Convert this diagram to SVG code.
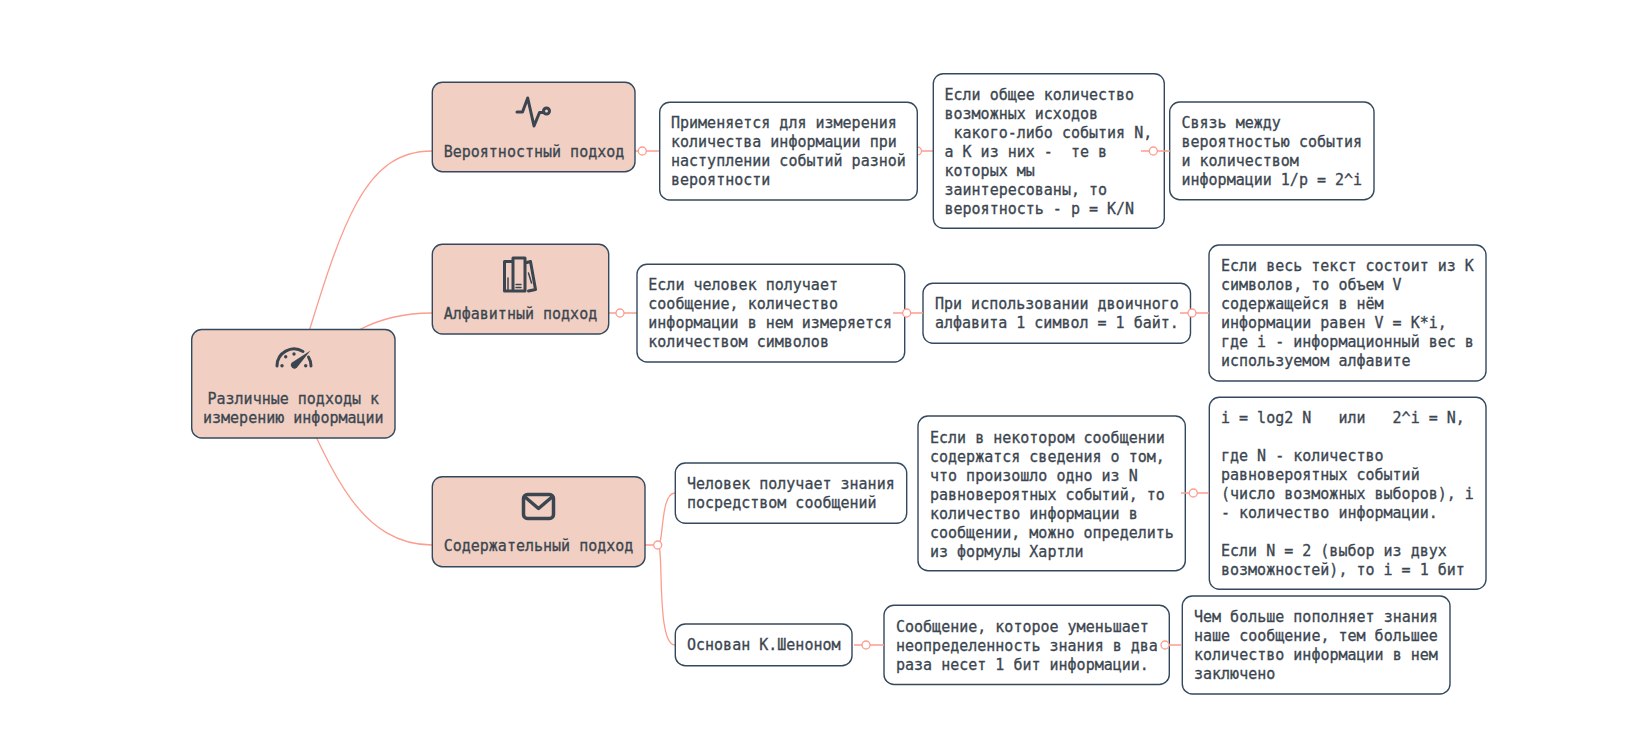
<svg xmlns="http://www.w3.org/2000/svg" width="1636" height="747" viewBox="0 0 1636 747">
<style>
.n{stroke:#34495e;stroke-width:1.4}
.m{fill:#f1d0c3}
.s{fill:#fff}
text{font-family:"DejaVu Sans Mono",monospace;font-size:15px;fill:#3c4650;stroke:#3c4650;stroke-width:.3;white-space:pre}
.c{fill:none;stroke:#fc9d8f;stroke-width:1.3}
.d{fill:#fff;stroke:#fc9d8f;stroke-width:1.3}
.i{fill:none;stroke:#3c4650;stroke-width:3;stroke-linecap:round;stroke-linejoin:round}
.f{fill:#3c4650}
</style>
<rect width="1636" height="747" fill="#fff"/>
<g id="connectors">
<path class="c" d="M293 384C340 230 360 151 432 151"/>
<path class="c" d="M293 384C340 335 375 313 432 313"/>
<path class="c" d="M293 384C330 470 360 545 432 545"/>
<path class="c" d="M635 151H660M917 151H933M608 313H637"/>
<path class="c" d="M645 545H658C664 545 660 493 675 493M658 545C664 545 656 645 675 645"/>
<circle class="d" cx="642.3" cy="151" r="4"/><circle class="d" cx="917.5" cy="151" r="4"/>
<circle class="d" cx="620" cy="313" r="4"/><circle class="d" cx="657.7" cy="545" r="4"/>
</g>
<g id="root"><rect class="n m" x="191.7" y="329.5" width="203.3" height="108.5" rx="10"/>
<path class="i" d="M277 366A17 17 0 0 1 303 351.5M308.500 357A17 17 0 0 1 311 366"/>
<path class="f" d="M310.500 350.500L297 367.500A3.500 3.500 0 0 1 292 362.500Z"/>
<circle class="f" cx="282" cy="365.700" r="1.700"/><circle class="f" cx="285.700" cy="356.700" r="1.700"/><circle class="f" cx="294" cy="354" r="1.700"/><circle class="f" cx="305.700" cy="365.700" r="1.700"/>
<text x="207.500" y="404">Различные подходы к</text><text x="203" y="423">измерению информации</text></g>
<g id="n1"><rect class="n m" x="432.3" y="82.3" width="202.7" height="89.4" rx="10"/>
<path class="i" d="M517 112H522.500L527.700 98L534 126L539.500 112.500H543"/><circle class="i" cx="546.500" cy="111" r="3"/>
<text x="443.700" y="156.700">Вероятностный подход</text></g>
<g id="n2"><rect class="n m" x="432.3" y="244.3" width="176.4" height="89.7" rx="10"/>
<path class="i" stroke-width="2.6" d="M504.500 261.500H513V291H504.500ZM513 258H525V291H513ZM525 263L530.500 261.500L535.500 289.500L528.500 291"/>
<path class="i" style="stroke-width:1.500" d="M508 278V289.500M516 284.500H521M516 287.500H521M528.500 273L531.500 283"/>
<text x="443.700" y="319">Алфавитный подход</text></g>
<g id="n3"><rect class="n m" x="432.3" y="476.7" width="212.7" height="90" rx="10"/>
<rect class="i" style="stroke-width:3.500" x="523.500" y="494.500" width="30" height="24" rx="4"/><path class="i" style="stroke-width:3.500" d="M525 497L538.500 508.500L552 497"/>
<text x="443.700" y="550.700">Содержательный подход</text></g>
<g id="n4"><rect class="n s" x="659.7" y="102.3" width="257.6" height="97.7" rx="10"/>
<text x="671" y="128.300">Применяется для измерения</text><text x="671" y="147.300">количества информации при</text><text x="671" y="166.300">наступлении событий разной</text><text x="671" y="185.300">вероятности</text></g>
<g id="n5"><rect class="n s" x="933.3" y="73.7" width="231" height="154.6" rx="10"/>
<text x="944.500" y="100">Если общее количество</text><text x="944.500" y="119">возможных исходов</text><text x="944.500" y="138"> какого-либо события N,</text><text x="944.500" y="157">а К из них -  те в</text><text x="944.500" y="176">которых мы</text><text x="944.500" y="195">заинтересованы, то</text><text x="944.500" y="214">вероятность - p = K/N</text></g>
<g id="n6"><rect class="n s" x="1169.7" y="102" width="204.3" height="97.7" rx="10"/>
<text x="1181.500" y="128">Связь между</text><text x="1181.500" y="147">вероятностью события</text><text x="1181.500" y="166">и количеством</text><text x="1181.500" y="185">информации 1/p = 2^i</text></g>
<g id="n7"><rect class="n s" x="637" y="264.3" width="267.7" height="97.7" rx="10"/>
<text x="648.300" y="290">Если человек получает</text><text x="648.300" y="309">сообщение, количество</text><text x="648.300" y="328">информации в нем измеряется</text><text x="648.300" y="347">количеством символов</text></g>
<g id="n8"><rect class="n s" x="923" y="283.3" width="267.500" height="60" rx="10"/>
<text x="935" y="309">При использовании двоичного</text><text x="935" y="328">алфавита 1 символ = 1 байт.</text></g>
<g id="n9"><rect class="n s" x="1209" y="245" width="277" height="136" rx="10"/>
<text x="1221" y="271">Если весь текст состоит из К</text><text x="1221" y="290">символов, то объем V</text><text x="1221" y="309">содержащейся в нём</text><text x="1221" y="328">информации равен V = K*i,</text><text x="1221" y="347">где i - информационный вес в</text><text x="1221" y="366">используемом алфавите</text></g>
<g id="n10"><rect class="n s" x="675.3" y="463" width="231.4" height="60.3" rx="10"/>
<text x="687" y="489">Человек получает знания</text><text x="687" y="508">посредством сообщений</text></g>
<g id="n11"><rect class="n s" x="918" y="416" width="267.3" height="154.7" rx="10"/>
<text x="930" y="442.700">Если в некотором сообщении</text><text x="930" y="461.700">содержатся сведения о том,</text><text x="930" y="480.700">что произошло одно из N</text><text x="930" y="499.700">равновероятных событий, то</text><text x="930" y="518.700">количество информации в</text><text x="930" y="537.700">сообщении, можно определить</text><text x="930" y="556.700">из формулы Хартли</text></g>
<g id="n12"><rect class="n s" x="1209.3" y="397.3" width="276.7" height="192" rx="10"/>
<text x="1221" y="423.300">i = log2 N   или   2^i = N,</text><text x="1221" y="461.300">где N - количество</text><text x="1221" y="480.300">равновероятных событий</text><text x="1221" y="499.300">(число возможных выборов), i</text><text x="1221" y="518.300">- количество информации.</text><text x="1221" y="556.300">Если N = 2 (выбор из двух</text><text x="1221" y="575.300">возможностей), то i = 1 бит</text></g>
<g id="n13"><rect class="n s" x="675.3" y="624" width="176.7" height="41.7" rx="10"/>
<text x="687" y="650">Основан К.Шеноном</text></g>
<g id="n14"><rect class="n s" x="884" y="605.3" width="285.3" height="79.2" rx="10"/>
<text x="896" y="631.700">Сообщение, которое уменьшает</text><text x="896" y="650.700">неопределенность знания в два</text><text x="896" y="669.700">раза несет 1 бит информации.</text></g>
<g id="n15"><rect class="n s" x="1182.3" y="596" width="267.7" height="98" rx="10"/>
<text x="1194" y="622.300">Чем больше пополняет знания</text><text x="1194" y="641.300">наше сообщение, тем большее</text><text x="1194" y="660.300">количество информации в нем</text><text x="1194" y="679.300">заключено</text></g>
<g id="connector-stubs">
<path class="c" d="M1141 151H1170M893 313H923M1180 313H1209M1181 493H1209M854 645H884M1165 645H1182"/>
<circle class="d" cx="1153.300" cy="151" r="4"/><circle class="d" cx="906.700" cy="313" r="4"/><circle class="d" cx="1192" cy="313" r="4"/>
<circle class="d" cx="1193.300" cy="493" r="4"/><circle class="d" cx="866" cy="645" r="4"/><circle class="d" cx="1165" cy="645" r="4"/>
</g>
</svg>
